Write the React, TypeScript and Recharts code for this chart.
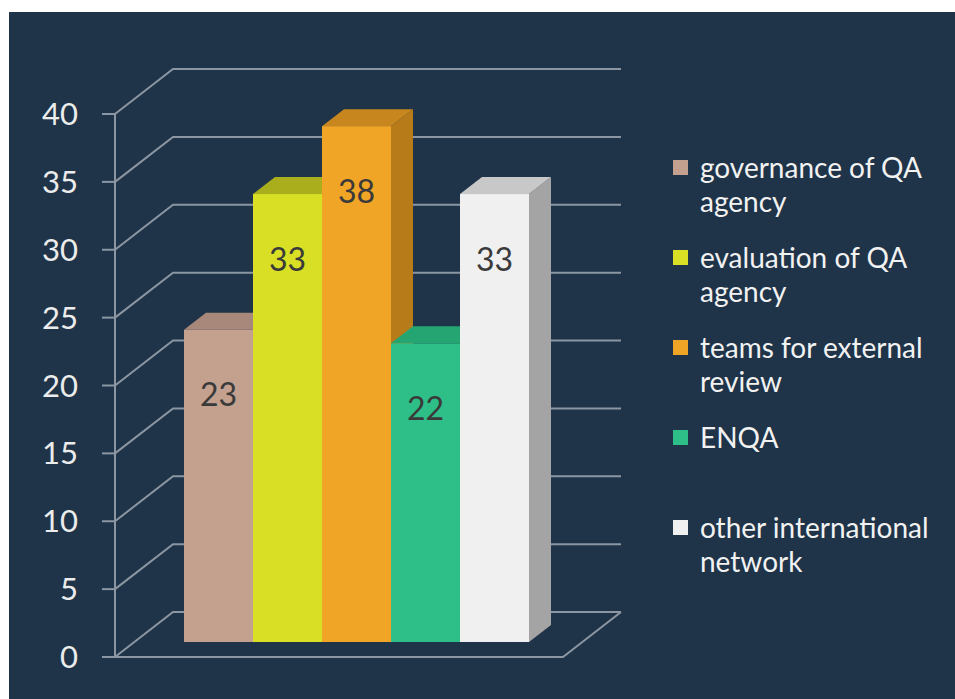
import React from "react";
import { BarChart, Bar, XAxis, YAxis, CartesianGrid, Legend, ReferenceLine, LabelList } from "recharts";

const seriesNames = [
  "governance of QA agency",
  "evaluation of QA agency",
  "teams for external review",
  "ENQA",
  "other international network",
];
const seriesValues = [23, 33, 38, 22, 33];
const yTicks = [0, 5, 10, 15, 20, 25, 30, 35, 40];

const frontColors = ["#c4a08e", "#d9df24", "#f0a526", "#2dbf87", "#f0f0f0"];
const topColors = ["#a8887a", "#abae1c", "#c8861e", "#24a572", "#c8c8c8"];
const sideColors = ["#9c7d70", "#a0a31a", "#b77b1a", "#1f9466", "#a4a4a4"];

const keys = seriesNames.map((_, i) => `s${i}`);
const chartData = [
  keys.reduce((row: any, k, i) => {
    row[k] = seriesValues[i];
    return row;
  }, { name: "" }),
];

const bg = "#1f3449";
const gridColor = "#8b96a2";
const font = "Lato, 'Open Sans', sans-serif";

// perspective offsets
const WALL_DX = 58;
const WALL_DY = -45;
const FACE_DX = 17;
const FACE_DY = -15;
const TOP_DX = 22;
const TOP_DY = -17;

const LEGEND_W = 280;

function Box(props: any) {
  const { x, y, width, height, idx } = props;
  const fx = x + FACE_DX;
  const fy = y + FACE_DY;
  const w = width;
  const h = height;
  return (
    <g>
      <path
        d={`M${fx + w},${fy} L${fx + w + TOP_DX},${fy + TOP_DY} L${fx + w + TOP_DX},${fy + h + TOP_DY} L${fx + w},${fy + h} Z`}
        fill={sideColors[idx]}
      />
      <path
        d={`M${fx},${fy} L${fx + TOP_DX},${fy + TOP_DY} L${fx + w + TOP_DX},${fy + TOP_DY} L${fx + w},${fy} Z`}
        fill={topColors[idx]}
      />
      <rect x={fx} y={fy} width={w} height={h} fill={frontColors[idx]} />
    </g>
  );
}

function ValueLabel(props: any) {
  const { x, y, width, value } = props;
  return (
    <text
      x={x + FACE_DX + width / 2}
      y={y + FACE_DY + 64}
      textAnchor="middle"
      dominantBaseline="central"
      fill="#3a3a3a"
      fontSize={32}
      fontFamily={font}
    >
      {value}
    </text>
  );
}

function GridLine(props: any) {
  const { x1, y1, x2 } = props;
  return (
    <path
      d={`M${x1},${y1} L${x1 + WALL_DX},${y1 + WALL_DY} L${x2 + WALL_DX},${y1 + WALL_DY}`}
      stroke={gridColor}
      strokeWidth={2}
      fill="none"
    />
  );
}

function FloorEdge(props: any) {
  const { x1, y1, x2, y2 } = props;
  return (
    <path
      d={`M${x1},${y1} L${x2},${y2} L${x2 + WALL_DX},${y2 + WALL_DY}`}
      stroke={gridColor}
      strokeWidth={2}
      fill="none"
    />
  );
}

function LegendContent() {
  return (
    <div style={{ fontFamily: font, color: "#f2f2f2", width: LEGEND_W }}>
      {seriesNames.map((name, i) => (
        <div key={name} style={{ height: 90, display: "flex", alignItems: "flex-start" }}>
          <div
            style={{
              width: 15,
              height: 15,
              background: frontColors[i],
              marginTop: 10,
              marginRight: 12,
              flexShrink: 0,
            }}
          />
          <div style={{ width: 248, fontSize: 28, lineHeight: "34px" }}>{name}</div>
        </div>
      ))}
    </div>
  );
}

export default function App() {
  return (
    <div style={{ position: "absolute", left: 0, top: 0, width: 955, height: 699, background: "#ffffff" }}>
      <div style={{ position: "absolute", left: 9, top: 12, right: 0, bottom: 0, background: bg }} />
      <div style={{ position: "absolute", left: 0, top: 0 }}>
        <BarChart
          width={955}
          height={699}
          data={chartData}
          margin={{ top: 114, right: 392 - LEGEND_W, bottom: 42, left: 0 }}
          barGap={0}
          barSize={69}
        >
          <CartesianGrid vertical={false} horizontal={(p: any) => <GridLine key={p.key} {...p} />} />
          <XAxis dataKey="name" hide />
          <YAxis
            width={115}
            domain={[0, 40]}
            ticks={yTicks}
            interval={0}
            axisLine={{ stroke: gridColor, strokeWidth: 2 }}
            tickLine={{ stroke: gridColor, strokeWidth: 2 }}
            tickSize={13}
            tickMargin={24}
            tick={{ fill: "#ececec", fontSize: 31, fontFamily: font }}
          />
          <ReferenceLine y={0} shape={(p: any) => <FloorEdge {...p} />} />
          <Legend
            layout="vertical"
            align="right"
            verticalAlign="top"
            wrapperStyle={{ left: 673, top: 150, width: LEGEND_W }}
            content={() => <LegendContent />}
          />
          {keys.map((k, i) => (
            <Bar
              key={k}
              dataKey={k}
              name={seriesNames[i]}
              fill={frontColors[i]}
              isAnimationActive={false}
              shape={(p: any) => <Box {...p} idx={i} />}
            >
              <LabelList dataKey={k} content={(p: any) => <ValueLabel {...p} />} />
            </Bar>
          ))}
        </BarChart>
      </div>
    </div>
  );
}
